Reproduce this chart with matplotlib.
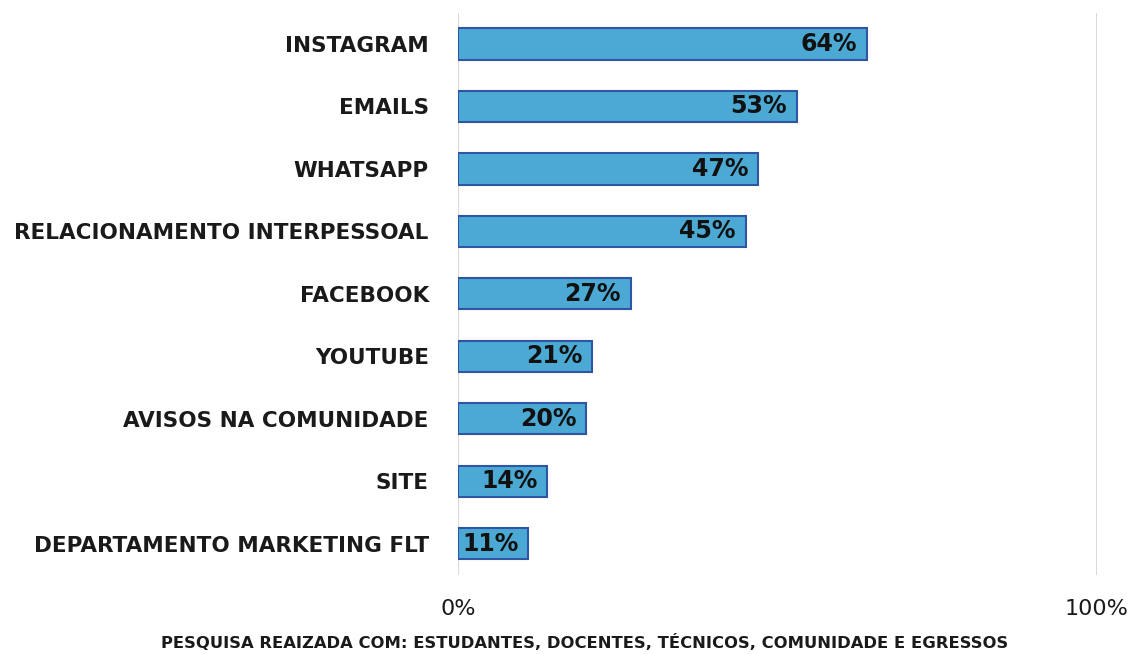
import matplotlib
matplotlib.use("Agg")
import matplotlib.pyplot as plt

categories = ["INSTAGRAM", "EMAILS", "WHATSAPP", "RELACIONAMENTO INTERPESSOAL",
              "FACEBOOK", "YOUTUBE", "AVISOS NA COMUNIDADE", "SITE",
              "DEPARTAMENTO MARKETING FLT"]
values = [64, 53, 47, 45, 27, 21, 20, 14, 11]
xticks = [0, 100]
xtick_labels = ["0%", "100%"]
footer = "PESQUISA REAIZADA COM: ESTUDANTES, DOCENTES, TÉCNICOS, COMUNIDADE E EGRESSOS"

fig = plt.figure(figsize=(11.35, 6.54), dpi=100)
ax = fig.add_axes([0.4035, 0.1208, 0.563, 0.8597])

ypos = list(range(len(categories)))
ax.barh(ypos, values, height=0.5, color="#4BA9D3", edgecolor="#2F55A5", linewidth=1.5, zorder=3)
for y, v in zip(ypos, values):
    ax.text(v - 1.5, y, f"{v}%", ha="right", va="center", fontsize=17,
            fontweight="bold", color="#111111", zorder=4)

ax.set_yticks(ypos)
ax.set_yticklabels(categories, fontsize=15.5, fontweight="bold", color="#1a1a1a")
ax.set_ylim(len(categories) - 0.5, -0.5)
ax.set_xlim(0, 100)
ax.set_xticks(xticks)
ax.set_xticklabels(xtick_labels, fontsize=16, fontweight="medium", color="#1a1a1a")
ax.tick_params(axis="both", length=0)
ax.tick_params(axis="y", pad=21)
ax.tick_params(axis="x", pad=17)
ax.grid(axis="x", color="#d9d9d9", linewidth=1.5, zorder=0)
for s in ax.spines.values():
    s.set_visible(False)

fig.text(0.515, 0.017, footer, ha="center", va="center", fontsize=11.8,
         fontweight="bold", color="#1a1a1a")

fig.savefig("out.png", dpi=100)
